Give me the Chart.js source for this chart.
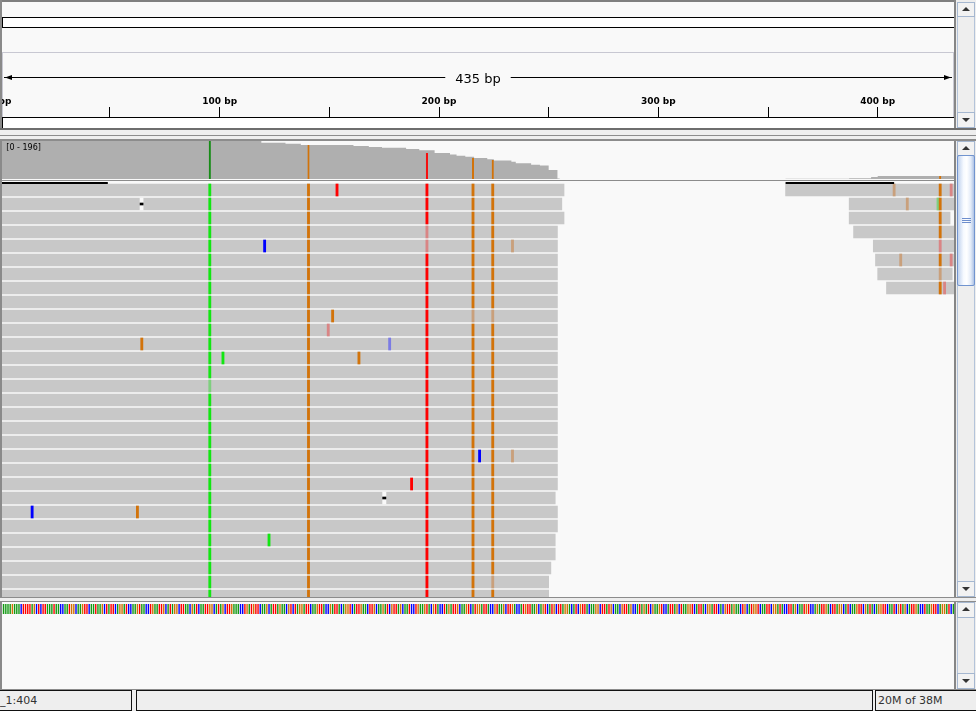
<!DOCTYPE html>
<html>
<head>
<meta charset="utf-8">
<title>Alignment view</title>
<script src="https://cdn.jsdelivr.net/npm/chart.js@4.4.1/dist/chart.umd.min.js"></script>
<style>
  html, body { margin: 0; padding: 0; }
  body { width: 976px; height: 711px; position: relative; overflow: hidden; background: #f9f9f9; font-family: "DejaVu Sans", sans-serif; }
  div { box-sizing: border-box; }
  .abs { position: absolute; }
  .clip { position: absolute; overflow: hidden; left: 2px; width: 952px; }
  .clip canvas { position: absolute; left: -42px; top: 0; }
  .sbtrack { position: absolute; left: 957px; width: 18px; background: #eeeeee; border: 1px solid #b4c4da; }
  .sbbtn { position: absolute; left: 957px; width: 18px; background: #f2f2f2; border: 1px solid #a5b7d0; }
  .sbbtn .up, .sbbtn .down { position: absolute; left: 4px; width: 0; height: 0; border-left: 4px solid transparent; border-right: 4px solid transparent; }
  .sbbtn .up { top: 4px; border-bottom: 4px solid #333; }
  .sbbtn .down { top: 5px; border-top: 4px solid #333; }
  .status { position: absolute; top: 690px; height: 21px; border: 1px solid #111; font-size: 11px; line-height: 19px; color: #333; white-space: nowrap; overflow: hidden; }
</style>
</head>
<body>
<!-- frame -->
<div class="abs" style="left:956px;top:0;width:20px;height:690px;background:#eeeeee"></div>
<div class="abs" style="left:0;top:0;width:955px;height:2px;background:#7f7f7f"></div>
<div class="abs" style="left:0;top:0;width:2px;height:690px;background:#8a8a8a"></div>
<div class="abs" style="left:954px;top:0;width:2px;height:690px;background:#868686"></div>

<!-- header: ideogram box + ruler frame -->
<div class="abs" style="left:2px;top:17px;width:952px;height:11px;background:#fff;border:1px solid #000;border-right:none"></div>
<div class="abs" style="left:2px;top:52px;width:952px;height:66px;border:1px solid #c8c8d2;border-bottom:none"></div>
<div class="abs" style="left:2px;top:117px;width:952px;height:11px;background:#fff;border-left:1px solid #000"></div>

<!-- splitter -->
<div class="abs" style="left:0;top:128px;width:976px;height:2px;background:#6e6e6e"></div>
<div class="abs" style="left:0;top:130px;width:976px;height:9px;background:#eeeeee"></div>
<div class="abs" style="left:0;top:135px;width:976px;height:1px;background:#8c8c8c"></div>
<div class="abs" style="left:0;top:139px;width:976px;height:2px;background:#8c8c8c"></div>

<!-- coverage / reads separator -->
<div class="abs" style="left:2px;top:180px;width:952px;height:1px;background:#8c8c8c"></div>

<!-- data panel bottom, lower panel -->
<div class="abs" style="left:0;top:597px;width:976px;height:1px;background:#8c8c8c"></div>
<div class="abs" style="left:0;top:598px;width:976px;height:3px;background:#eeeeee"></div>
<div class="abs" style="left:0;top:601px;width:976px;height:1px;background:#8c8c8c"></div>
<div class="abs" style="left:0;top:689px;width:976px;height:1px;background:#8c8c8c"></div>

<!-- scrollbars -->
<div class="sbtrack" style="top:2px;height:126px"></div>
<div class="sbbtn" style="top:2px;height:15px"><div class="up"></div></div>
<div class="sbbtn" style="top:112px;height:16px"><div class="down"></div></div>

<div class="sbtrack" style="top:141px;height:456px"></div>
<div class="sbbtn" style="top:141px;height:15px"><div class="up"></div></div>
<div class="abs" style="left:957px;top:155px;width:18px;height:131px;border:1px solid #7194cf;border-radius:2px;background:linear-gradient(to right,#c2d3ee,#f7faff 35%,#ffffff 55%,#e3ebf8 80%,#aec3e6)"></div>
<div class="abs" style="left:962px;top:218px;width:9px;height:1px;background:#6e8ecd"></div>
<div class="abs" style="left:962px;top:220px;width:9px;height:1px;background:#6e8ecd"></div>
<div class="abs" style="left:962px;top:222px;width:9px;height:1px;background:#6e8ecd"></div>
<div class="sbbtn" style="top:581px;height:16px"><div class="down"></div></div>

<div class="sbtrack" style="top:602px;height:87px"></div>
<div class="sbbtn" style="top:602px;height:16px"><div class="up"></div></div>
<div class="sbbtn" style="top:673px;height:16px"><div class="down"></div></div>

<!-- status bar -->
<div class="abs" style="left:0;top:690px;width:976px;height:21px;background:#eeeeee"></div>
<div class="status" style="left:-1px;width:133px">_1:404</div>
<div class="status" style="left:136px;width:737px"></div>
<div class="status" style="left:875px;width:102px;padding-left:2px">20M of 38M</div>

<script>
// view window in bp, shared by every track
const viewStart = -0.15;
const viewEnd = 435.25;
const spanLabel = "435 bp";
const PAD = 40;

// ruler
const rulerTicks = [0, 50, 100, 150, 200, 250, 300, 350, 400];
const rulerLabels = ["0 bp", "", "100 bp", "", "200 bp", "", "300 bp", "", "400 bp"];

// coverage (step profile) and colored allele columns
const covMax = 196;
const covStart = [0, 119, 130, 137, 161, 168, 174, 185, 191, 198, 205, 208, 212, 216, 222, 225, 233, 235, 242, 246, 250, 254, 255, 358, 387, 397, 400];
const covDepth = [196, 187, 182, 175, 170, 165, 161, 155, 148, 134, 127, 120, 115, 108, 102, 96, 89, 81, 74, 69, 46, 2, 0, 1, 4, 10, 15];
const covEnd = 436;
const altPos = [95, 140, 194, 215, 224, 428];
const altBase = ["A", "G", "T", "G", "G", "G"];
const altCount = [196, 175, 134, 108, 98, 15];

// reads (row, start, end)
const readRow = [0, 1, 2, 3, 4, 5, 6, 7, 8, 9, 10, 11, 12, 13, 14, 15, 16, 17, 18, 19, 20, 21, 22, 23, 24, 25, 26, 27, 28, 29,
                 0, 1, 2, 3, 4, 5, 6, 7];
const readStart = [0, 0, 0, 0, 0, 0, 0, 0, 0, 0, 0, 0, 0, 0, 0, 0, 0, 0, 0, 0, 0, 0, 0, 0, 0, 0, 0, 0, 0, 0,
                   358, 387, 387, 389, 398, 399, 400, 404];
const readEnd = [257, 256, 257, 254, 254, 254, 254, 254, 254, 254, 254, 254, 254, 254, 254, 254, 254, 254, 254, 254, 254, 254, 253, 254, 254, 253, 253, 251, 250, 250,
                 436, 436, 433, 436, 436, 436, 434, 436];

// variant sites seen in every read covering them
const sitePos = [95, 140, 194, 215, 224];
const siteBase = ["A", "G", "T", "G", "G"];
const faintRow = [3, 4, 9, 9, 14, 28];
const faintPos = [194, 194, 215, 224, 95, 224];

// single mismatches
const misRow = [0, 4, 4, 9, 10, 11, 11, 12, 12, 19, 19, 21, 23, 23, 25, 0, 0, 0, 1, 1, 1, 2, 3, 4, 5, 5, 5, 6, 7, 7];
const misPos = [153, 120, 233, 151, 149, 64, 177, 101, 163, 218, 233, 187, 14, 62, 122, 407, 428, 433, 413, 427, 428, 428, 428, 428, 410, 428, 433, 428, 428, 430];
const misBase = ["T", "C", "G", "G", "T", "G", "C", "A", "G", "C", "G", "T", "C", "G", "A", "G", "G", "T", "G", "A", "G", "G", "G", "T", "G", "G", "T", "G", "G", "T"];
const misFaint = [0, 0, 1, 0, 1, 0, 1, 0, 0, 0, 1, 0, 0, 0, 0, 1, 0, 1, 1, 1, 0, 0, 0, 1, 1, 0, 1, 1, 0, 1];

// deletions
const delRow = [1, 22];
const delStart = [63.7, 174.3];
const delEnd = [65.1, 175.8];

// downsampled intervals
const dsStart = [0, 358];
const dsEnd = [49, 407.5];

// reference sequence
const refSeq =
  "AAAAAGAAACTTTTAGCTCTTAAATAACCAATGGCAAGTTCAATAAGCTA" +
  "TTCAGGATCCAAGTAACCTGAATTGCATAGGCTTAACGATCAATTGGCAT" +
  "AGCTTGAAACCTGATGTTCAAGCATTAGAACGTCTAGGATTCAAGTTACC" +
  "GATTACAGGTCATTGAACTTGCAAGATCGTTAGCAATCCTGAAGTACGTA" +
  "CCTAGATTGCAAGTCATGGATTACCGTAAGCTTGACCATGTTAAGCAGTC" +
  "ATGCTTAGGACATCGTTACAAGGCTTATGCAACGTTAGCCATAGATCGAA" +
  "GTCCATTAGCTAAGGTCATTACGGATTCACGTTAGAACTGCATGGTCAAT" +
  "TCGGATACCTTAGCAATGTCCAGATTGACTTAGGCATCAAGTTCGATACA" +
  "GGTTCAATCGTAGCATTGACCTAAGTTCAGGATCA";

const readColor = { A: "#12e612", C: "#0000ff", G: "#d2730a", T: "#ff0000" };
const faintColor = { A: "#7fcf7f", C: "#7b7be4", G: "#c9a07c", T: "#d98585" };
const covColor = { A: "#178c17", C: "#0000ff", G: "#d2730a", T: "#f51010" };
const seqColor = { A: "#139a13", C: "#0000ff", G: "#d17105", T: "#ff0000" };

function makeCanvas(top, height, canvasHeight) {
  const box = document.createElement("div");
  box.className = "clip";
  box.style.top = top + "px";
  box.style.height = height + "px";
  const canvas = document.createElement("canvas");
  canvas.width = 955 + 2 * PAD;
  canvas.height = canvasHeight;
  canvas.style.width = canvas.width + "px";
  canvas.style.height = canvasHeight + "px";
  box.appendChild(canvas);
  document.body.appendChild(box);
  return canvas.getContext("2d");
}

function xView() {
  return { type: "linear", display: false, offset: false, min: viewStart, max: viewEnd };
}

const common = {
  responsive: false,
  animation: false,
  devicePixelRatio: 1,
  events: [],
  plugins: { legend: { display: false }, tooltip: { enabled: false } },
};

// ---- ruler ----
const spanArrow = {
  id: "spanArrow",
  afterDraw(chart) {
    const { ctx } = chart;
    const xs = chart.scales.x;
    const left = xs.getPixelForValue(viewStart) + 4;
    const right = xs.getPixelForValue(viewEnd) - 3;
    const mid = (left + right) / 2;
    const y = 21.5;
    ctx.save();
    ctx.font = '13px "DejaVu Sans"';
    const w = ctx.measureText(spanLabel).width;
    ctx.strokeStyle = "#000";
    ctx.lineWidth = 1;
    ctx.beginPath();
    ctx.moveTo(left, y);
    ctx.lineTo(mid - w / 2 - 10, y);
    ctx.moveTo(mid + w / 2 + 10, y);
    ctx.lineTo(right, y);
    ctx.stroke();
    ctx.fillStyle = "#000";
    ctx.beginPath();
    ctx.moveTo(left + 1, y);
    ctx.lineTo(left + 8, y - 2.5);
    ctx.lineTo(left + 8, y + 2.5);
    ctx.closePath();
    ctx.fill();
    ctx.beginPath();
    ctx.moveTo(right - 1, y);
    ctx.lineTo(right - 8, y - 2.5);
    ctx.lineTo(right - 8, y + 2.5);
    ctx.closePath();
    ctx.fill();
    ctx.textAlign = "center";
    ctx.textBaseline = "alphabetic";
    ctx.fillText(spanLabel, mid, 27);
    ctx.restore();
  },
};

new Chart(makeCanvas(56, 72, 72), {
  type: "scatter",
  data: { datasets: [] },
  options: {
    ...common,
    layout: { padding: { left: PAD, right: PAD, top: 0, bottom: 0 } },
    scales: {
      x: {
        type: "linear",
        position: "top",
        min: viewStart,
        max: viewEnd,
        afterBuildTicks: (s) => { s.ticks = rulerTicks.map((v) => ({ value: v })); },
        afterFit: (s) => { s.height = 61; },
        ticks: {
          autoSkip: false,
          maxRotation: 0,
          padding: 0,
          color: "#000",
          font: { family: "'DejaVu Sans', sans-serif", size: 9, weight: "bold" },
          callback: (v, i) => rulerLabels[i],
        },
        grid: { drawOnChartArea: false, tickLength: 10, color: "#000", lineWidth: 1 },
        border: { display: true, color: "#000", width: 1 },
      },
      y: { display: false, min: 0, max: 1 },
    },
  },
  plugins: [spanArrow],
});

// ---- coverage ----
const covPoints = covStart.map((s, i) => ({ x: s, y: covDepth[i] }));
covPoints.push({ x: covEnd, y: covDepth[covDepth.length - 1] });

// stepped "before": each value is held until the next breakpoint
const covSets = [{
  data: covPoints,
  stepped: "before",
  fill: "origin",
  backgroundColor: "#afafaf",
  borderColor: "rgba(0,0,0,0)",
  borderWidth: 0,
  pointRadius: 0,
  order: 2,
}];
altPos.forEach((p, i) => {
  covSets.push({
    data: [{ x: p, y: altCount[i] }, { x: p + 1, y: altCount[i] }],
    stepped: "before",
    fill: "origin",
    backgroundColor: covColor[altBase[i]],
    borderColor: "rgba(0,0,0,0)",
    borderWidth: 0,
    pointRadius: 0,
    order: 1,
  });
});

const covLabel = {
  id: "covLabel",
  afterDraw(chart) {
    const { ctx, chartArea } = chart;
    ctx.save();
    ctx.font = '8px "DejaVu Sans"';
    ctx.fillStyle = "#000";
    ctx.textBaseline = "alphabetic";
    ctx.fillText("[0 - " + chart.scales.y.max + "]", chartArea.left + 6.3, 8.5);
    ctx.restore();
  },
};

new Chart(makeCanvas(141, 38, 38), {
  type: "line",
  data: { datasets: covSets },
  options: {
    ...common,
    layout: { padding: { left: PAD, right: PAD, top: 0, bottom: 0 } },
    scales: { x: xView(), y: { display: false, min: 0, max: covMax } },
  },
  plugins: [covLabel],
});

// ---- reads ----
const readData = readRow.map((r, i) => ({ x: [readStart[i], readEnd[i]], y: r }));

const mmData = [];
const mmColors = [];
readRow.forEach((r, i) => {
  sitePos.forEach((p, k) => {
    if (readStart[i] <= p && readEnd[i] > p) {
      const faint = faintRow.some((fr, j) => fr === r && faintPos[j] === p);
      mmData.push({ x: [p, p + 1], y: r });
      mmColors.push(faint ? faintColor[siteBase[k]] : readColor[siteBase[k]]);
    }
  });
});
misRow.forEach((r, i) => {
  mmData.push({ x: [misPos[i], misPos[i] + 1], y: r });
  mmColors.push(misFaint[i] ? faintColor[misBase[i]] : readColor[misBase[i]]);
});

const delData = delRow.map((r, i) => ({ x: [delStart[i], delEnd[i]], y: r }));

const downsampleMarks = {
  id: "downsampleMarks",
  afterDatasetsDraw(chart) {
    const { ctx, chartArea } = chart;
    const xs = chart.scales.x;
    ctx.save();
    ctx.fillStyle = "#000";
    dsStart.forEach((s, i) => {
      const a = xs.getPixelForValue(s);
      const b = xs.getPixelForValue(dsEnd[i]);
      ctx.fillRect(a, chartArea.top - 1, b - a, 2);
    });
    ctx.restore();
  },
};

new Chart(makeCanvas(181, 416, 422), {
  type: "bar",
  data: {
    datasets: [
      { data: delData, backgroundColor: "#000", barThickness: 2, grouped: false, order: 0 },
      { data: mmData, backgroundColor: mmColors, barThickness: 12, grouped: false, order: 1 },
      { data: delData, backgroundColor: "#f9f9f9", barThickness: 12, grouped: false, order: 2 },
      { data: readData, backgroundColor: "#c8c8c8", barThickness: 12, grouped: false, order: 3 },
    ],
  },
  options: {
    ...common,
    indexAxis: "y",
    layout: { padding: { left: PAD, right: PAD, top: 2, bottom: 0 } },
    scales: {
      x: xView(),
      y: { type: "linear", display: false, offset: false, reverse: true, min: -0.5, max: 29.5 },
    },
  },
  plugins: [downsampleMarks],
});

// ---- reference sequence ----
const bases = refSeq.split("");
new Chart(makeCanvas(604, 10, 10), {
  type: "bar",
  data: {
    datasets: [{
      data: bases.map((b, i) => ({ x: i + 0.5, y: 1 })),
      backgroundColor: bases.map((b) => seqColor[b]),
      barThickness: 1.4,
      inflateAmount: 0,
    }],
  },
  options: {
    ...common,
    layout: { padding: { left: PAD, right: PAD, top: 0, bottom: 0 } },
    scales: { x: xView(), y: { display: false, min: 0, max: 1 } },
  },
});
</script>
</body>
</html>
